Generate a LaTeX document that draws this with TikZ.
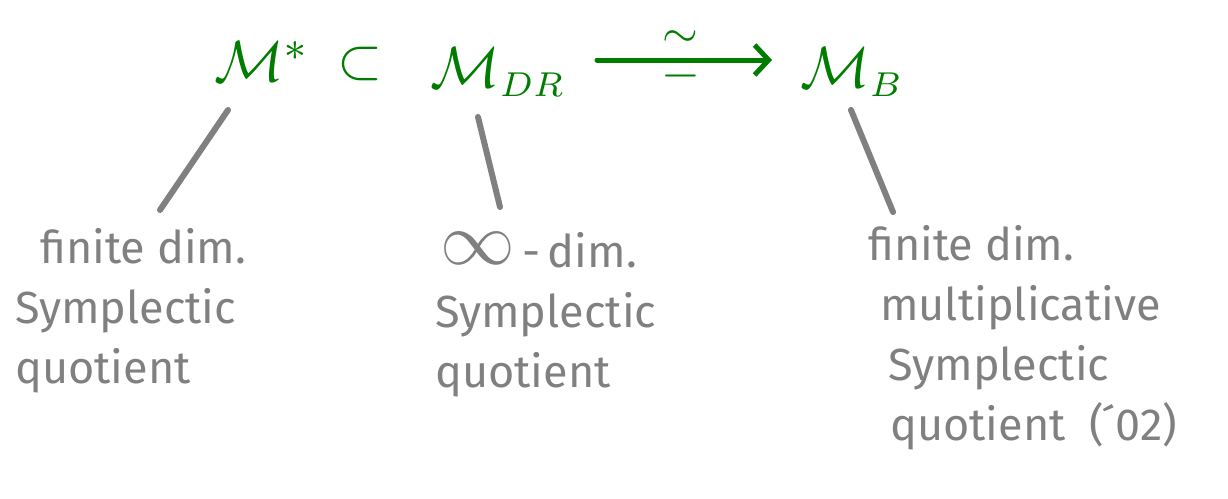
\documentclass[tikz,border=0pt]{standalone}
\usepackage{fontspec}
\setsansfont{Fira Sans}
\usetikzlibrary{arrows.meta}
\definecolor{hgreen}{RGB}{0,125,0}
\definecolor{hgray}{RGB}{128,128,128}
\newcommand{\hugemath}[1]{\scalebox{5.8}{$#1$}}
\newcommand{\subsm}[1]{\scalebox{0.85}{$\scriptstyle #1$}}
\begin{document}
\begin{tikzpicture}[x=1pt,y=-1pt,
  mathnode/.style={text=hgreen,inner sep=0pt},
  note/.style={text=hgray,anchor=north west,align=left,inner sep=0pt,
    font=\sffamily\fontsize{45}{60}\selectfont},
  link/.style={draw=hgray,line width=6pt,line cap=round},
  garrow/.style={draw=hgreen,line width=5pt,line cap=round,-{Straight Barb[length=14pt,width=30pt]}}
]
\useasboundingbox (0,0) rectangle (1228,498);
\node[mathnode,anchor=west] (ms) at (214,62) {\hugemath{\mathcal{M}^*}};
\node[mathnode] (sub) at (360,64) {\hugemath{\subset}};
\node[mathnode,anchor=west] (mdr) at (430,72) {\hugemath{\mathcal{M}_{\subsm{DR}}}};
\node[mathnode,anchor=west] (mb) at (800,72) {\hugemath{\mathcal{M}_{\subsm{B}}}};
\coordinate (as) at (597,60);
\coordinate (ae) at (772,60);
\draw[garrow] (as) -- node[mathnode,yshift=21pt,xshift=-4pt]{\scalebox{4.6}{$\sim$}} node[mathnode,yshift=-16pt,xshift=-4pt]{\scalebox{5}{$-$}} (ae);
\node[note] (t1) at (15,228) {\hspace*{25pt}finite dim.\\Symplectic\\quotient};
\node[note] (t2) at (435,232) {\hspace*{5pt}\raisebox{3pt}{\scalebox{3}{$\infty$}}\,-\,dim.\\Symplectic\\quotient};
\node[note] (t3) at (868,225) {finite dim.\\\hspace*{12pt}multiplicative\\\hspace*{20pt}Symplectic\\\hspace*{22pt}quotient\ \ (\'{}02)};
\coordinate (a1) at (228,110); \coordinate (b1) at (160,210);
\coordinate (a2) at (478,117); \coordinate (b2) at (500,207);
\coordinate (a3) at (851,110); \coordinate (b3) at (893,212);
\draw[link] (a1) -- (b1);
\draw[link] (a2) -- (b2);
\draw[link] (a3) -- (b3);
\end{tikzpicture}
\end{document}
